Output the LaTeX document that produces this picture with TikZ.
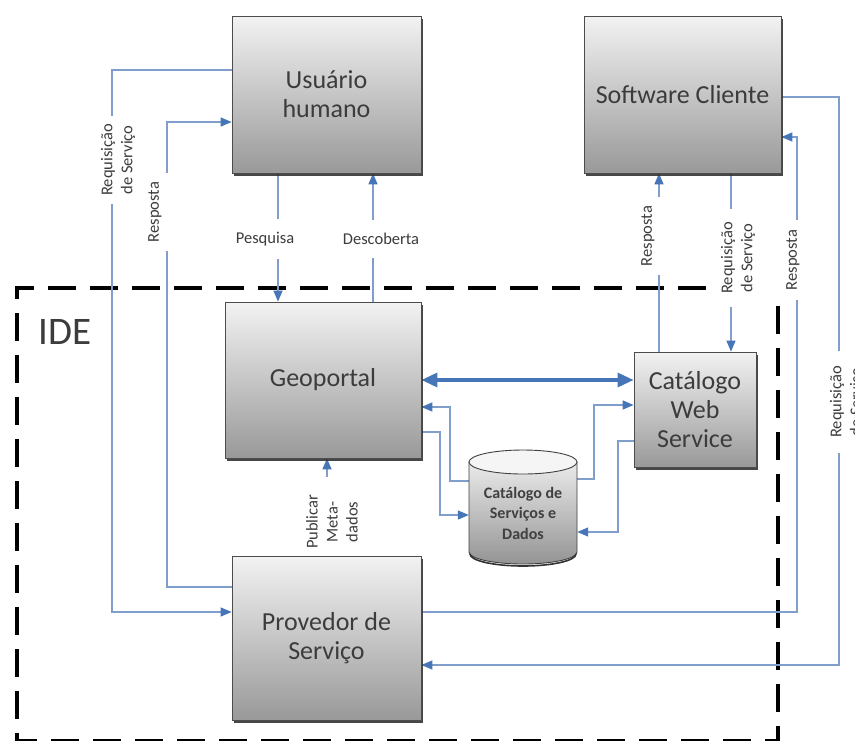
\documentclass[tikz,border=0pt]{standalone}
\usepackage{fontspec}
\setmainfont{Carlito}
\usetikzlibrary{arrows.meta,shadows}
\definecolor{ink}{RGB}{60,60,60}
\definecolor{flowline}{RGB}{128,158,204}
\definecolor{flowtip}{RGB}{70,118,184}
\pgfdeclarelayer{back}
\pgfsetlayers{back,main}

\begin{document}
\begin{tikzpicture}[x=1pt,y=-1pt,
  box/.style={draw=black!70, line width=0.8pt, top color=black!5, bottom color=black!40,
    drop shadow={shadow xshift=1.8pt, shadow yshift=-2.5pt, fill=black!80, opacity=0.9},
    text=ink, align=center, font=\fontsize{26}{29}\selectfont, inner sep=0pt},
  conn/.style={draw=flowline, line width=1.3pt, -{Triangle[length=11pt,width=9pt,color=flowtip]}},
  bigconn/.style={draw=flowtip, line width=3.2pt,
    {Triangle[length=16pt,width=14pt]}-{Triangle[length=16pt,width=14pt]}},
  lbl/.style={fill=white, text=ink, font=\fontsize{16.5}{20}\selectfont, align=center},
  vlbl/.style={lbl, rotate=90},
  frame/.style={draw=black, line width=4.5pt, dash pattern=on 28pt off 14pt}
]
\useasboundingbox (0,0) rectangle (855,740);
\clip (0,0) rectangle (855,740);

% actors and components
\node[box, minimum width=189pt, minimum height=157pt] (usr) at (326.5,94.5) {Usuário\\humano};
\node[box, minimum width=197pt, minimum height=157pt] (sc) at (682.5,94.5) {Software Cliente};
\node[box, minimum width=196pt, minimum height=156pt] (geo) at (323,380) {Geoportal};
\node[box, minimum width=189pt, minimum height=164pt] (prov) at (326.5,638) {Provedor de\\Serviço};
\node[box, minimum width=122pt, minimum height=115pt] (cws) at (695,409.5) {Catálogo\\Web\\Service};

% metadata store (cylinder)
\shade[top color=black!8, bottom color=black!42, draw=black!75, line width=0.9pt]
  (469,462) -- (469,552) arc[start angle=180, end angle=0, x radius=54, y radius=12] -- (577,462) -- cycle;
\filldraw[fill=black!4, draw=black!75, line width=0.9pt] (523,462) ellipse [x radius=54, y radius=12];
\draw[black!80, line width=1.6pt] (470,554) arc[start angle=180, end angle=0, x radius=53, y radius=12];
\node[inner sep=0pt, minimum width=108pt, minimum height=114pt, text=black!75,
  font=\bfseries\fontsize{16}{20.5}\selectfont, align=center] (db) at (523,513) {Catálogo de\\Serviços e\\Dados};

\begin{pgfonlayer}{back}
\fill[white] (0,0) rectangle (855,740);
% IDE boundary
\draw[frame] (706,288) -- (17,288) -- (17,741) -- (778,741) -- (778,302);
\node[text=ink, font=\fontsize{39}{42}\selectfont, anchor=west] (ide) at (35,332) {IDE};

% user side
\draw[conn] (usr.west |- 0,70) -- (112,70) -- (112,612) -- (prov.west |- 0,612);
\draw[conn] (prov.west |- 0,587) -- (167,587) -- (167,122) -- (usr.west |- 0,122);
\draw[conn] (usr.south -| 278,0) -- (geo.north -| 278,0);
\draw[conn] (geo.north -| 373,0) -- (usr.south -| 373,0);
\draw[conn] (prov.north -| 327,0) -- (geo.south -| 327,0);

% portal, catalogue and store
\draw[bigconn] (geo.east |- 0,380) -- (cws.west |- 0,380);
\draw[conn] (db.west |- 0,481) -- (450,481) -- (450,407) -- (geo.east |- 0,407);
\draw[conn] (geo.east |- 0,432) -- (440,432) -- (440,515) -- (db.west |- 0,515);
\draw[conn] (db.east |- 0,479) -- (594,479) -- (594,405) -- (cws.west |- 0,405);
\draw[conn] (cws.west |- 0,441) -- (618,441) -- (618,532) -- (db.east |- 0,532);

% client side
\draw[conn] (cws.north -| 659,0) -- (sc.south -| 659,0);
\draw[conn] (sc.south -| 731,0) -- (cws.north -| 731,0);
\draw[conn] (prov.east |- 0,612) -- (797,612) -- (797,137) -- (sc.east |- 0,137);
\draw[conn] (sc.east |- 0,97) -- (839,97) -- (839,665) -- (prov.east |- 0,665);

% connector labels
\node[vlbl, inner xsep=8pt, inner ysep=2pt] (lreq1) at (118,160) {Requisição\\de Serviço};
\node[vlbl, inner xsep=9pt, inner ysep=6pt] (lresp1) at (155,212) {Resposta};
\node[lbl, inner xsep=3pt, inner ysep=13pt] (lpes) at (265,239) {Pesquisa};
\node[lbl, inner xsep=3pt, inner ysep=13pt] (ldesc) at (381,239) {Descoberta};
\node[vlbl, inner xsep=18pt, inner ysep=1pt] (lpub) at (332,522) {Publicar\\Meta-\\dados};
\node[vlbl, inner xsep=9pt, inner ysep=6pt] (lresp2) at (648,236) {Resposta};
\node[vlbl, inner xsep=13pt, inner ysep=2pt] (lreq2) at (738,258) {Requisição\\de Serviço};
\node[vlbl, inner xsep=10pt, inner ysep=4pt] (lresp3) at (793,260) {Resposta};
\node[vlbl, inner xsep=15pt, inner ysep=2pt] (lreq3) at (847,402) {Requisição\\de Serviço};
\end{pgfonlayer}
\end{tikzpicture}
\end{document}
